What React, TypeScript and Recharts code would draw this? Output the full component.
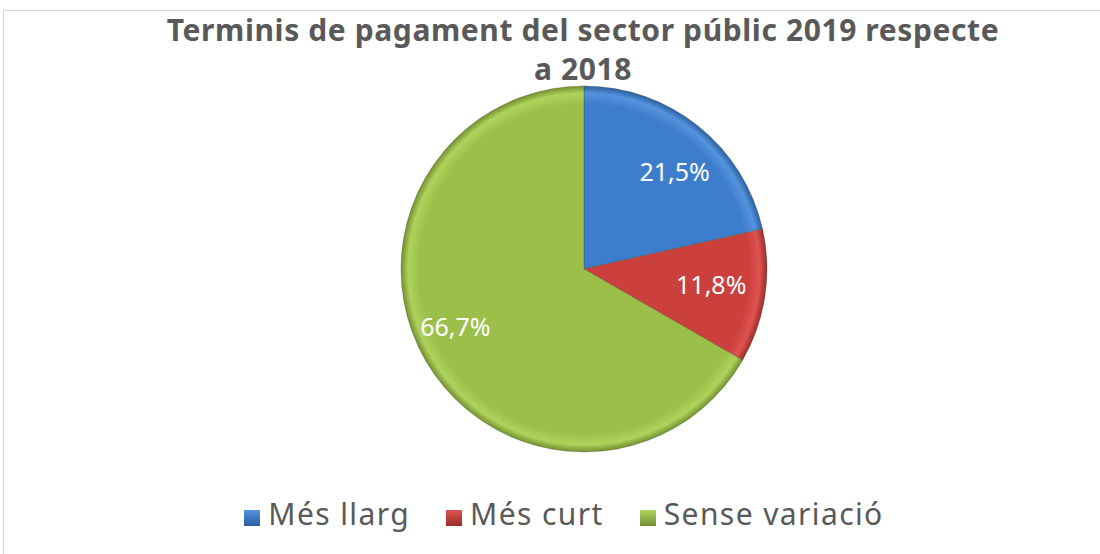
import React from "react";
import { PieChart, Pie, Cell } from "recharts";

const categories = ["Més llarg", "Més curt", "Sense variació"];
const shares = [21.5, 11.8, 66.7];
const titleLines = ["Terminis de pagament del sector públic 2019 respecte", "a 2018"];

const data = categories.map((name, i) => ({ name, value: shares[i] }));

const palette = [
  { id: "gBlue", light: "#5593de", mid: "#3c7dcc", dark: "#2b5f9f" },
  { id: "gRed", light: "#de5350", mid: "#cb403d", dark: "#992d2b" },
  { id: "gGreen", light: "#aed25c", mid: "#9bbf49", dark: "#738f30" },
];

// excel "best fit" nudges for the labels (degrees, radius fraction)
const labelTweak: Record<string, { da: number; r: number }> = {
  "Més llarg": { da: -4, r: 0.73 },
  "Més curt": { da: 2, r: 0.7 },
  "Sense variació": { da: -6, r: 0.77 },
};

const RAD = Math.PI / 180;
const FONT = "'Noto Sans', sans-serif";
const CX = 584;
const CY = 269;
const R = 183;

function renderLabel(props: any) {
  const { cx, cy, midAngle, outerRadius, value, name } = props;
  const t = labelTweak[name] ?? { da: 0, r: 0.7 };
  const a = (midAngle + t.da) * RAD;
  const x = cx + outerRadius * t.r * Math.cos(a);
  const y = cy - outerRadius * t.r * Math.sin(a);
  return (
    <text
      x={x}
      y={y}
      fill="#ffffff"
      textAnchor="middle"
      dominantBaseline="central"
      fontFamily={FONT}
      fontSize={25}
    >
      {value.toFixed(1).replace(".", ",")}%
    </text>
  );
}

export default function App() {
  return (
    <div style={{ position: "absolute", left: 0, top: 0, width: 1100, height: 554, background: "#fff", overflow: "hidden" }}>
      <div
        style={{
          position: "absolute",
          left: 3,
          top: 10,
          width: 1110,
          height: 560,
          border: "1.5px solid #d9d9d9",
        }}
      />
      <div
        style={{
          position: "absolute",
          left: 0,
          top: 10,
          width: 1166,
          textAlign: "center",
          fontFamily: FONT,
          fontWeight: 700,
          fontSize: 30,
          letterSpacing: 0.6,
          lineHeight: "39px",
          color: "#595959",
        }}
      >
        {titleLines.map((l) => (
          <div key={l}>{l}</div>
        ))}
      </div>
      <div style={{ position: "absolute", left: 0, top: 0 }}>
        <PieChart width={1100} height={554} margin={{ top: 0, right: 0, bottom: 0, left: 0 }}>
          <defs>
            {palette.map((p) => (
              <radialGradient key={p.id} id={p.id} gradientUnits="userSpaceOnUse" cx={CX} cy={CY} r={R}>
                <stop offset="0%" stopColor={p.mid} />
                <stop offset="90%" stopColor={p.mid} />
                <stop offset="96%" stopColor={p.light} />
                <stop offset="100%" stopColor={p.dark} />
              </radialGradient>
            ))}
            {palette.map((p) => (
              <linearGradient key={p.id + "L"} id={p.id + "L"} x1="0" y1="0" x2="0" y2="1">
                <stop offset="0%" stopColor={p.light} />
                <stop offset="100%" stopColor={p.dark} />
              </linearGradient>
            ))}
          </defs>
          <Pie
            data={data}
            dataKey="value"
            nameKey="name"
            cx={CX}
            cy={CY}
            outerRadius={R}
            startAngle={90}
            endAngle={-270}
            stroke="#3b4a22"
            strokeOpacity={0.3}
            strokeWidth={1}
            label={renderLabel}
            labelLine={false}
            isAnimationActive={false}
          >
            {data.map((d, i) => (
              <Cell key={d.name} fill={`url(#${palette[i].id})`} />
            ))}
          </Pie>
        </PieChart>
      </div>
      <div
        style={{
          position: "absolute",
          left: 0,
          top: 493,
          width: 1128,
          display: "flex",
          justifyContent: "center",
          gap: 36,
          fontFamily: FONT,
          fontSize: 30,
          letterSpacing: 1.4,
          color: "#595959",
        }}
      >
        {categories.map((c, i) => (
          <div key={c} style={{ display: "flex", alignItems: "center" }}>
            <svg width={16} height={16} style={{ marginRight: 8, marginTop: 8 }}>
              <rect x={0} y={0} width={16} height={16} fill={`url(#${palette[i].id}L)`} />
            </svg>
            <span>{c}</span>
          </div>
        ))}
      </div>
    </div>
  );
}
